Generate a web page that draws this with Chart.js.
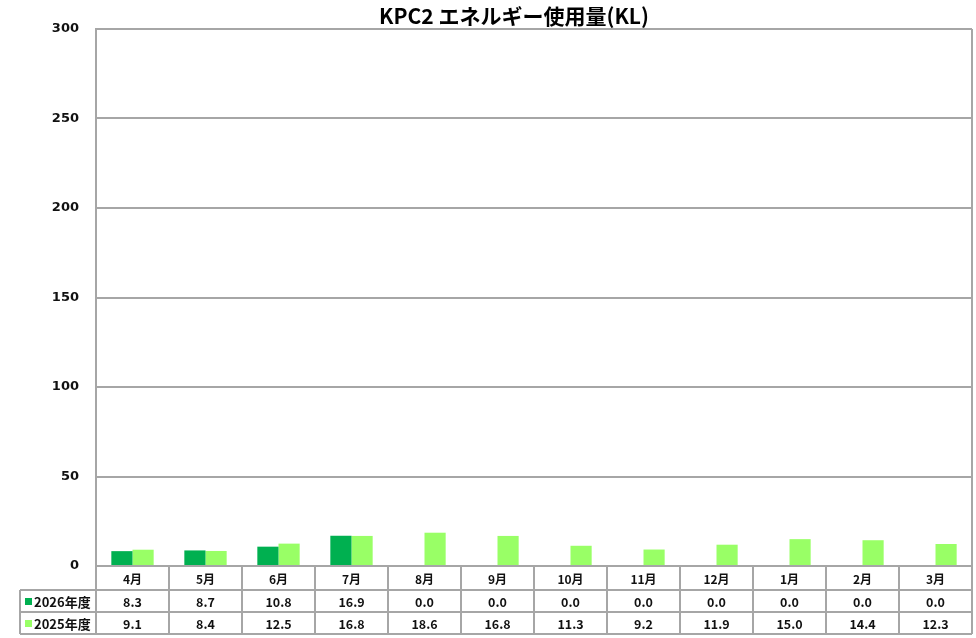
<!DOCTYPE html>
<html>
<head>
<meta charset="utf-8">
<script src="https://cdn.jsdelivr.net/npm/chart.js@4.4.1/dist/chart.umd.min.js"></script>
<style>
html,body{margin:0;padding:0;background:#fff;}
#wrap{width:976px;height:638px;position:relative;}
</style>
</head>
<body>
<div id="wrap"><canvas id="c" width="976" height="638"></canvas></div>
<script>
const titleText = 'KPC2 エネルギー使用量(KL)';
const months = ['4月','5月','6月','7月','8月','9月','10月','11月','12月','1月','2月','3月'];
const seriesNames = ['2026年度','2025年度'];
const values2026 = [8.3, 8.7, 10.8, 16.9, 0.0, 0.0, 0.0, 0.0, 0.0, 0.0, 0.0, 0.0];
const values2025 = [9.1, 8.4, 12.5, 16.8, 18.6, 16.8, 11.3, 9.2, 11.9, 15.0, 14.4, 12.3];
const yTicks = [0, 50, 100, 150, 200, 250, 300];

const colors = ['#00B050', '#99FF66'];
const lineColor = '#A6A6A6';
const FONT = '"Noto Sans CJK JP", "Noto Sans", sans-serif';
const NUMFONT = '"DejaVu Sans", sans-serif';

const tablePlugin = {
  id: 'tablePlugin',
  afterDraw(chart) {
    const ctx = chart.ctx;
    const xs = chart.scales.x;
    const ca = chart.chartArea;
    const step = xs.getPixelForValue(1) - xs.getPixelForValue(0);
    const top = ca.bottom;
    const rows = [top, top + 24, top + 46, top + 68];
    const labelLeft = 20;
    ctx.save();
    ctx.strokeStyle = lineColor;
    ctx.lineWidth = 2;
    ctx.beginPath();
    ctx.moveTo(ca.right, ca.top);
    ctx.lineTo(ca.right, ca.bottom);
    ctx.stroke();
    ctx.beginPath();
    ctx.moveTo(ca.left, rows[1]); ctx.lineTo(ca.right, rows[1]);
    ctx.moveTo(labelLeft, rows[1]); ctx.lineTo(ca.left, rows[1]);
    ctx.moveTo(labelLeft, rows[2]); ctx.lineTo(ca.right, rows[2]);
    ctx.moveTo(labelLeft, rows[3]); ctx.lineTo(ca.right, rows[3]);
    ctx.moveTo(labelLeft, rows[1]); ctx.lineTo(labelLeft, rows[3]);
    for (let i = 0; i <= months.length; i++) {
      const x = xs.getPixelForValue(0) - step / 2 + i * step;
      ctx.moveTo(x, rows[0]); ctx.lineTo(x, rows[3]);
    }
    ctx.stroke();

    ctx.fillStyle = '#111';
    ctx.textAlign = 'center';
    ctx.textBaseline = 'middle';
    ctx.font = 'bold 12px ' + FONT;
    months.forEach((m, i) => {
      ctx.fillText(m, xs.getPixelForValue(i), (rows[0] + rows[1]) / 2 + 1);
    });
    [values2026, values2025].forEach((arr, r) => {
      const yc = (rows[r + 1] + rows[r + 2]) / 2 + 1;
      ctx.font = 'bold 12.5px ' + FONT;
      ctx.textAlign = 'center';
      arr.forEach((v, i) => {
        ctx.fillText(v.toFixed(1), xs.getPixelForValue(i), yc);
      });
      ctx.fillStyle = colors[r];
      ctx.fillRect(labelLeft + 5, yc - 4, 7, 7);
      ctx.fillStyle = '#111';
      ctx.textAlign = 'left';
      ctx.font = 'bold 13px ' + FONT;
      ctx.fillText(seriesNames[r], labelLeft + 14, yc);
    });

    ctx.font = 'bold 21px ' + FONT;
    ctx.textAlign = 'center';
    ctx.textBaseline = 'middle';
    ctx.fillStyle = '#000';
    ctx.fillText(titleText, 514, 16);
    ctx.restore();
  }
};

new Chart(document.getElementById('c'), {
  type: 'bar',
  data: {
    labels: months,
    datasets: [
      { label: seriesNames[0], data: values2026, backgroundColor: colors[0], borderWidth: 0 },
      { label: seriesNames[1], data: values2025, backgroundColor: colors[1], borderWidth: 0 }
    ]
  },
  options: {
    responsive: false,
    animation: false,
    devicePixelRatio: 1,
    layout: { padding: { left: 0, top: 29, right: 4, bottom: 72 } },
    datasets: { bar: { categoryPercentage: 0.58, barPercentage: 1.0 } },
    plugins: { legend: { display: false }, title: { display: false }, tooltip: { enabled: false } },
    scales: {
      x: { display: false },
      y: {
        min: 0, max: 300,
        afterFit(scale) { scale.width = 96; },
        afterBuildTicks(scale) { scale.ticks = yTicks.map(v => ({ value: v })); },
        ticks: { padding: 17, color: '#111', font: { family: NUMFONT, size: 13, weight: 'bold' } },
        grid: { color: lineColor, lineWidth: 2, drawTicks: false },
        border: { display: true, color: lineColor, width: 2 }
      }
    }
  },
  plugins: [tablePlugin]
});
</script>
</body>
</html>
